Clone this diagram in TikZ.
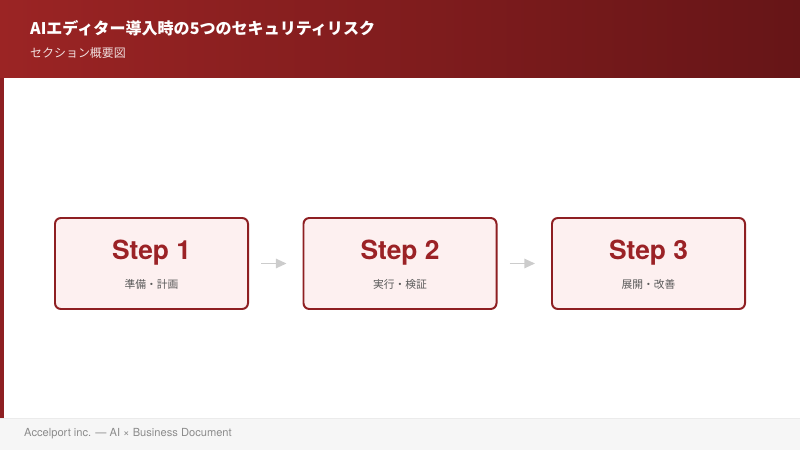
\documentclass[tikz,border=0pt]{standalone}
\usepackage{fontspec}
\setmainfont{Noto Sans CJK JP}
\newfontfamily\heros{TeX Gyre Heros}
\usepackage{xcolor}
\usetikzlibrary{arrows.meta}

\definecolor{hdrleft}{HTML}{9B2424}
\definecolor{hdrright}{HTML}{661517}
\definecolor{accentred}{HTML}{8E1F22}
\definecolor{steptext}{HTML}{9B2226}
\definecolor{stepfill}{HTML}{FDF0F0}
\definecolor{footbg}{HTML}{F6F6F6}

\begin{document}
\begin{tikzpicture}[x=0.03cm, y=-0.03cm,
    stepbox/.style={draw=accentred, line width=1.7pt, fill=stepfill, rounded corners=5pt,
                    minimum width=5.79cm, minimum height=2.73cm},
    steptitle/.style={text=steptext, font=\heros\fontsize{22.5}{24}\selectfont\bfseries},
    stepsub/.style={text=black!65, font=\fontsize{9.2}{10}\selectfont},
    flow/.style={-{Triangle[length=9pt, width=8pt]}, line width=1.3pt, draw=black!20}]

    \useasboundingbox (0,0) rectangle (800,450);

    % Header
    \shade[left color=hdrleft, right color=hdrright] (0,0) rectangle (800,78);
    \node[anchor=west, inner sep=0pt, text=white, font=\fontsize{13.7}{16}\selectfont\bfseries] (title) at (30,28)
        {AIエディター導入時の5つのセキュリティリスク};
    \node[anchor=west, inner sep=0pt, text=white!85!hdrleft, font=\fontsize{10.2}{12}\selectfont] (subtitle) at (30,53)
        {セクション概要図};

    % Left accent bar
    \fill[accentred] (0,78) rectangle (4,418);

    % Footer
    \fill[footbg] (0,418) rectangle (800,450);
    \draw[black!8] (0,418) -- (800,418);
    \node[anchor=west, inner sep=0pt, text=black!45, font=\heros\fontsize{9.5}{10}\selectfont] (footer) at (24,434)
        {Accelport inc. — AI × Business Document};

    % Step boxes
    \node[stepbox] (step1) at (151.5,263.5) {};
    \node[steptitle] (step1t) at (151.5,253) {Step 1};
    \node[stepsub] (step1s) at (151.5,284) {準備・計画};

    \node[stepbox] (step2) at (400,263.5) {};
    \node[steptitle] (step2t) at (400,253) {Step 2};
    \node[stepsub] (step2s) at (400,284) {実行・検証};

    \node[stepbox] (step3) at (648.5,263.5) {};
    \node[steptitle] (step3t) at (648.5,253) {Step 3};
    \node[stepsub] (step3s) at (648.5,284) {展開・改善};

    % --------------------
    % Arrows
    % --------------------

    \draw[flow] ([xshift=0.36cm]step1.east) -- ([xshift=-0.48cm]step2.west);
    \draw[flow] ([xshift=0.36cm]step2.east) -- ([xshift=-0.48cm]step3.west);

\end{tikzpicture}
\end{document}
